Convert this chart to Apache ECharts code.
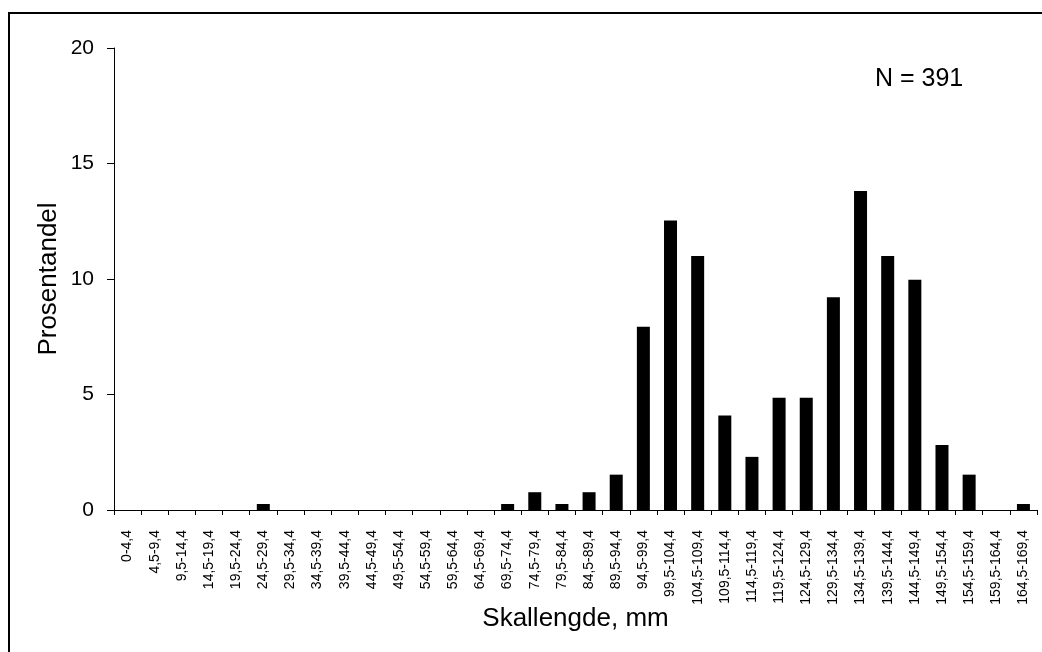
<!DOCTYPE html>
<html>
<head>
<meta charset="utf-8">
<script src="https://cdn.jsdelivr.net/npm/echarts@6/dist/echarts.min.js"></script>
<style>
html,body{margin:0;padding:0;background:#fff;}
#c{width:1042px;height:652px;}
</style>
</head>
<body>
<div id="c"></div>
<script>
var categories = ["0-4,4","4,5-9,4","9,5-14,4","14,5-19,4","19,5-24,4","24,5-29,4","29,5-34,4","34,5-39,4","39,5-44,4","44,5-49,4","49,5-54,4","54,5-59,4","59,5-64,4","64,5-69,4","69,5-74,4","74,5-79,4","79,5-84,4","84,5-89,4","89,5-94,4","94,5-99,4","99,5-104,4","104,5-109,4","109,5-114,4","114,5-119,4","119,5-124,4","124,5-129,4","129,5-134,4","134,5-139,4","139,5-144,4","144,5-149,4","149,5-154,4","154,5-159,4","159,5-164,4","164,5-169,4"];
var percent = [0,0,0,0,0,0.26,0,0,0,0,0,0,0,0,0.26,0.77,0.26,0.77,1.53,7.93,12.53,11.0,4.09,2.30,4.86,4.86,9.21,13.81,11.0,9.97,2.81,1.53,0,0.26];
var yTicks = {min:0, max:20, interval:5};
var annotation = "N = 391";
var xTitle = "Skallengde, mm";
var yTitle = "Prosentandel";

var font = "Liberation Sans, Arial, sans-serif";
var chart = echarts.init(document.getElementById('c'), null, {renderer:'canvas'});
chart.setOption({
  animation:false,
  backgroundColor:'#fff',
  grid:{left:114, top:48, width:923, height:462, containLabel:false},
  graphic:[
    {type:'rect', shape:{x:9,y:13,width:1100,height:700}, style:{fill:'none', stroke:'#000', lineWidth:2}, z:-1},
    {type:'text', left:875, top:67, style:{text:annotation, font:'25px '+font, fill:'#000'}}
  ],
  xAxis:{
    type:'category', data:categories,
    name:xTitle, nameLocation:'middle', nameGap:96, nameMoveOverlap:false,
    nameTextStyle:{fontSize:26, fontFamily:font, color:'#000'},
    axisLine:{lineStyle:{color:'#000', width:1}},
    axisTick:{show:true, alignWithLabel:false, length:5, lineStyle:{color:'#000'}},
    axisLabel:{interval:0, rotate:90, fontSize:14, fontFamily:font, color:'#000', margin:20}
  },
  yAxis:{
    type:'value', min:yTicks.min, max:yTicks.max, interval:yTicks.interval,
    name:yTitle, nameLocation:'middle', nameGap:52, nameMoveOverlap:false,
    nameTextStyle:{fontSize:26, fontFamily:font, color:'#000'},
    axisLine:{show:true, lineStyle:{color:'#000', width:1}},
    axisTick:{show:true, length:7, lineStyle:{color:'#000'}},
    splitLine:{show:false},
    axisLabel:{fontSize:21, fontFamily:font, color:'#000', margin:20}
  },
  series:[{
    type:'bar', data:percent, barWidth:13,
    itemStyle:{color:'#000'}
  }]
});
</script>
</body>
</html>
